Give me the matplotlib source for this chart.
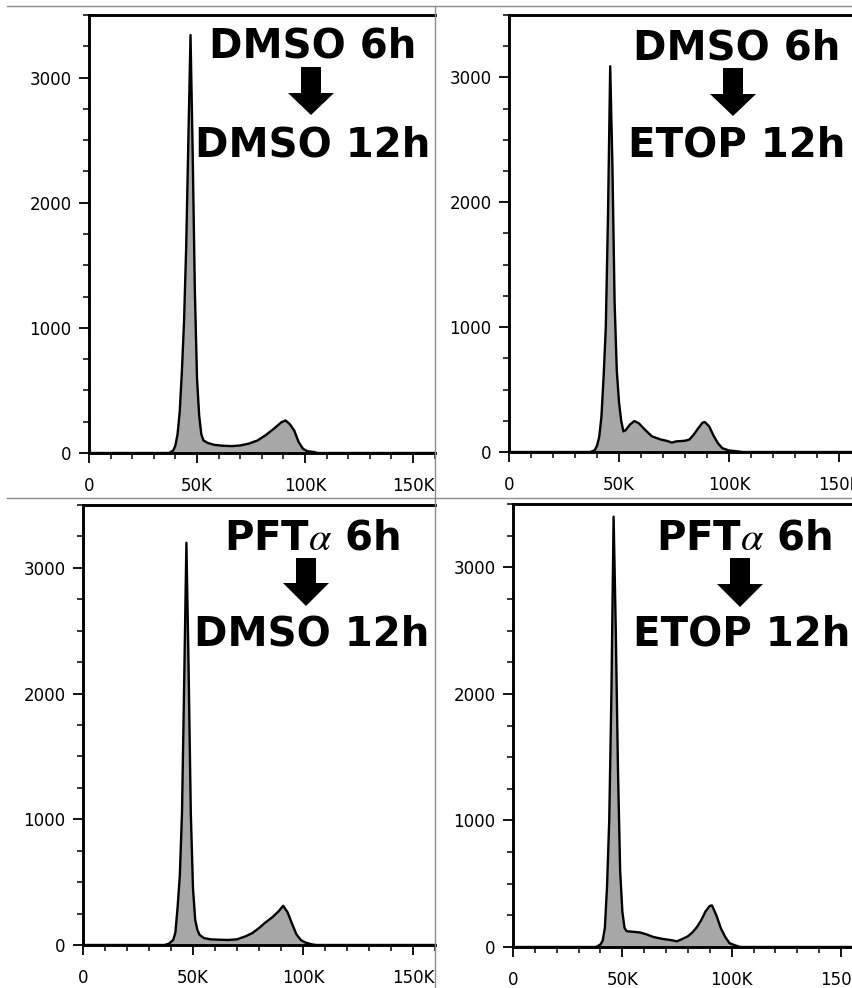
import matplotlib
matplotlib.use("Agg")
import matplotlib.pyplot as plt
from matplotlib.patches import Polygon
from matplotlib.lines import Line2D
from matplotlib.ticker import MultipleLocator

plt.rcParams['font.family'] = ['DejaVu Sans']
plt.rcParams['mathtext.fontset'] = 'stix'

# ---------------- data (x in thousands, y = counts) ----------------
tl_x = [0, 37, 39, 40, 41, 42, 43, 44, 45, 46, 47, 48, 49, 50, 51, 52, 53, 55, 58, 62, 66,
        70, 74, 78, 82, 86, 89, 91, 93, 95, 97, 99, 101, 104, 106, 160]
tl_y = [0, 0, 20, 60, 150, 330, 650, 1050, 1650, 2500, 3340, 2400, 1300, 600, 300, 150, 100,
        80, 65, 58, 55, 60, 75, 100, 145, 200, 245, 260, 230, 180, 90, 35, 15, 8, 0, 0]

tr_x = [0, 37, 39, 40, 41, 42, 43, 44, 45, 46, 47, 48, 49, 50, 51, 52, 53, 55, 57, 59, 62,
        65, 69, 72, 74, 76, 80, 82, 84, 86, 88, 89, 91, 93, 95, 97, 100, 104, 106, 160]
tr_y = [0, 0, 15, 50, 120, 280, 600, 1000, 1900, 3090, 2300, 1200, 650, 400, 250, 165, 175,
        220, 248, 230, 175, 125, 100, 88, 75, 85, 90, 100, 140, 190, 235, 240, 205, 130, 70,
        30, 12, 5, 0, 0]

bl_x = [0, 37, 39, 41, 42, 43, 44, 45, 46, 47, 48, 49, 50, 51, 52, 53, 55, 58, 62, 66, 70,
        74, 77, 80, 83, 86, 89, 91, 93, 95, 97, 99, 101, 104, 106, 160]
bl_y = [0, 0, 10, 40, 100, 300, 550, 1050, 2100, 3200, 2200, 1050, 450, 200, 120, 80, 55,
        45, 42, 40, 45, 70, 95, 135, 180, 220, 270, 312, 260, 170, 85, 40, 20, 5, 0, 0]

br_x = [0, 38, 40, 41, 42, 43, 44, 45, 46, 47, 48, 49, 50, 51, 52, 55, 58, 61, 64, 68, 72,
        75, 77, 80, 82, 84, 86, 88, 90, 91, 93, 95, 97, 99, 102, 104, 160]
br_y = [0, 0, 20, 50, 150, 480, 1000, 2000, 3400, 2500, 1400, 600, 280, 150, 125, 120, 115,
        100, 80, 65, 55, 45, 60, 85, 115, 155, 210, 280, 325, 328, 250, 150, 80, 30, 10, 0, 0]

top_labels = ["DMSO 6h", "DMSO 6h", r"PFT$\alpha$ 6h", r"PFT$\alpha$ 6h"]
bottom_labels = ["DMSO 12h", "ETOP 12h", "DMSO 12h", "ETOP 12h"]

x_ticks = [0, 50, 100, 150]
x_tick_labels = ["0", "50K", "100K", "150K"]
y_ticks = [0, 1000, 2000, 3000]
y_tick_labels = ["0", "1000", "2000", "3000"]

# ---------------- layout ----------------
W, H = 852, 988
fig = plt.figure(figsize=(W / 100, H / 100), dpi=100)
fig.patch.set_facecolor('white')


def fx(x):
    return x / W


def fy(y):
    return 1 - y / H


XMAX = 160
panels = [
    # left px, px per K, top px, bottom px
    (89, 2.16, 15, 453),
    (509, 2.20, 15, 452),
    (83, 2.20, 505, 945),
    (513, 2.187, 504, 947),
]
series = [(tl_x, tl_y), (tr_x, tr_y), (bl_x, bl_y), (br_x, br_y)]

text_pos = [
    (313, 58, 313, 156),
    (737, 59, 737, 156),
    (312, 550, 312, 646),
    (744, 550, 742, 646),
]
arrow_pos = [
    (311, 67, 93, 115),
    (733, 68, 94, 116),
    (306, 558, 583, 606),
    (740, 558, 584, 607),
]

fill_col = '#a7a7a7'

for (left, ppk, top, bot), (xs, ys) in zip(panels, series):
    width = XMAX * ppk
    ax = fig.add_axes([fx(left), fy(bot), width / W, (bot - top) / H])
    ax.fill_between(xs, ys, 0, color=fill_col, lw=0)
    ax.plot(xs, ys, color='black', lw=1.7)
    ax.set_xlim(0, XMAX)
    ax.set_ylim(0, 3500)
    ax.spines['right'].set_visible(False)
    for s in ['left', 'bottom', 'top']:
        ax.spines[s].set_linewidth(2.1)
        ax.spines[s].set_color('black')
    ax.set_xticks(x_ticks)
    ax.set_xticklabels(x_tick_labels)
    ax.set_yticks(y_ticks)
    ax.set_yticklabels(y_tick_labels)
    ax.xaxis.set_minor_locator(MultipleLocator(10))
    ax.yaxis.set_minor_locator(MultipleLocator(250))
    ax.tick_params(axis='both', which='major', length=7.5, width=1.3, labelsize=12,
                   direction='out', colors='black')
    ax.tick_params(axis='both', which='minor', length=4, width=1.1, direction='out')
    ax.tick_params(axis='x', which='major', pad=9.5)
    ax.tick_params(axis='y', which='major', pad=5)
    ax.set_facecolor('none')

for i in range(4):
    cx1, b1, cx2, b2 = text_pos[i]
    fig.text(fx(cx1), fy(b1), top_labels[i], ha='center', va='baseline',
             fontsize=29, fontweight='bold', color='black')
    fig.text(fx(cx2), fy(b2), bottom_labels[i], ha='center', va='baseline',
             fontsize=29, fontweight='bold', color='black')
    cx, ty, hy, tip = arrow_pos[i]
    sw, hw = 10, 23
    pts = [(cx - sw, ty), (cx + sw, ty), (cx + sw, hy), (cx + hw, hy), (cx, tip),
           (cx - hw, hy), (cx - sw, hy)]
    fig.patches.append(Polygon([(fx(a), fy(b)) for a, b in pts], closed=True,
                               transform=fig.transFigure, facecolor='black',
                               edgecolor='black', lw=0))

# separator lines
sep = '#8c8c8c'
fig.add_artist(Line2D([fx(7), 1], [fy(6), fy(6)], color=sep, lw=1.0, transform=fig.transFigure))
fig.add_artist(Line2D([fx(7), 1], [fy(498), fy(498)], color=sep, lw=1.0, transform=fig.transFigure))
fig.add_artist(Line2D([fx(434.5), fx(434.5)], [fy(6), 0], color=sep, lw=1.0, transform=fig.transFigure))

fig.savefig('out.png', dpi=100)
